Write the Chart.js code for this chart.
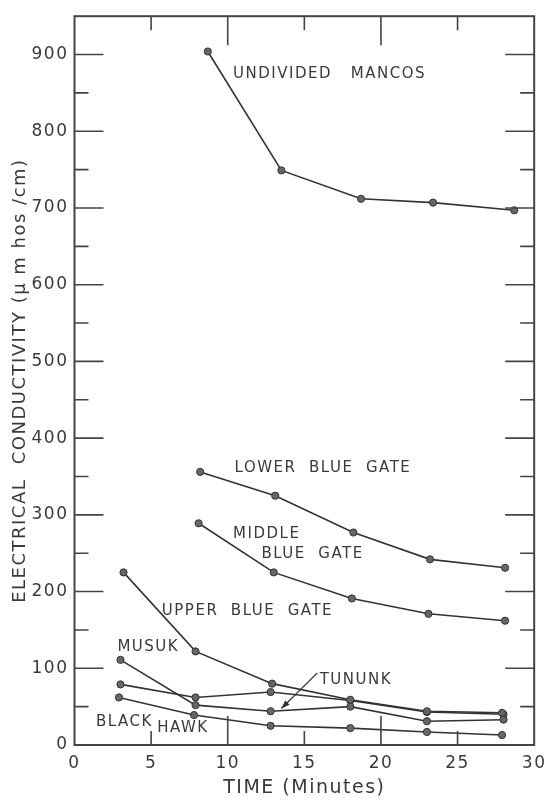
<!DOCTYPE html>
<html>
<head>
<meta charset="utf-8">
<script src="https://cdn.jsdelivr.net/npm/chart.js@4"></script>
<style>
  html, body { margin: 0; padding: 0; background: #fff; }
  #wrap { width: 553px; height: 801px; position: relative; }
</style>
</head>
<body>
<div id="wrap"><canvas id="chart"></canvas></div>
<script>
// time axis (minutes) and conductivity axis (µmhos/cm) tick labels
const xTickLabels = [0, 5, 10, 15, 20, 25, 30]
const yTickLabels = [0, 100, 200, 300, 400, 500, 600, 700, 800, 900]

// sampling times per series
const mancosTime = [8.7, 13.5, 18.7, 23.4, 28.7]
const lowerTime = [8.2, 13.1, 18.2, 23.2, 28.1]
const middleTime = [8.1, 13.0, 18.1, 23.1, 28.1]
const upperTime = [3.2, 7.9, 12.9, 18.0, 23.0, 27.9]
const musukTime = [3.0, 7.9, 12.8, 18.0, 23.0, 28.0]
const tununkTime = [3.0, 7.9, 12.8, 18.0, 23.0, 28.0]
const blackHawkTime = [2.9, 7.8, 12.8, 18.0, 23.0, 27.9]

// electrical conductivity per series
const mancosEC = [904, 749, 712, 707, 697]
const lowerEC = [356, 325, 277, 242, 231]
const middleEC = [289, 225, 191, 171, 162]
const upperEC = [225, 122, 80, 59, 44, 42]
const musukEC = [111, 52, 44, 50, 31, 33]
const tununkEC = [79, 62, 69, 58, 43, 40]
const blackHawkEC = [62, 39, 25, 22, 17, 13]

const ink = "#3a3a3a"
const font = "'DejaVu Sans', sans-serif"

function points(times, values) {
  return times.map((t, i) => ({ x: t, y: values[i] }))
}

function series(label, times, values) {
  return {
    label: label,
    data: points(times, values),
    showLine: true,
    borderColor: "#333",
    borderWidth: 1.6,
    pointRadius: 3.6,
    pointBackgroundColor: "#666",
    pointBorderColor: "#333",
    pointBorderWidth: 1
  }
}

// curve names, placed in data units
const curveLabels = [
  { text: "UNDIVIDED   MANCOS", x: 10.35, y: 875 },
  { text: "LOWER  BLUE  GATE", x: 10.45, y: 361 },
  { text: "MIDDLE", x: 10.35, y: 275 },
  { text: "BLUE  GATE", x: 12.2, y: 249 },
  { text: "UPPER  BLUE  GATE", x: 5.7, y: 174 },
  { text: "MUSUK", x: 2.8, y: 128 },
  { text: "TUNUNK", x: 16.0, y: 85 },
  { text: "BLACK", x: 1.4, y: 30 },
  { text: "HAWK", x: 5.4, y: 22 }
]

const framePlugin = {
  id: "frame",
  beforeDraw(chart) {
    chart.ctx.letterSpacing = "1.5px"
  },
  afterDatasetsDraw(chart) {
    const { ctx, chartArea: a, scales } = chart
    const x = scales.x
    const y = scales.y
    ctx.save()
    ctx.strokeStyle = "#444"
    ctx.lineWidth = 2
    ctx.strokeRect(a.left, a.top, a.right - a.left, a.bottom - a.top)

    // inward ticks on all four sides
    ctx.lineWidth = 1.6
    ctx.beginPath()
    for (let v = 50; v <= 900; v += 50) {
      const len = v % 100 === 0 ? 29 : 14
      const py = y.getPixelForValue(v)
      ctx.moveTo(a.left, py)
      ctx.lineTo(a.left + len, py)
      ctx.moveTo(a.right, py)
      ctx.lineTo(a.right - len, py)
    }
    for (let t = 5; t < 30; t += 5) {
      const len = t % 10 === 0 ? 29 : 14
      const px = x.getPixelForValue(t)
      ctx.moveTo(px, a.bottom)
      ctx.lineTo(px, a.bottom - len)
      ctx.moveTo(px, a.top)
      ctx.lineTo(px, a.top + len)
    }
    ctx.stroke()

    // curve names
    ctx.fillStyle = ink
    ctx.font = "15px " + font
    ctx.textAlign = "left"
    ctx.textBaseline = "middle"
    curveLabels.forEach(l => {
      ctx.fillText(l.text, x.getPixelForValue(l.x), y.getPixelForValue(l.y))
    })

    // arrow from TUNUNK to its curve
    const x0 = x.getPixelForValue(15.85), y0 = y.getPixelForValue(94)
    const x1 = x.getPixelForValue(13.5), y1 = y.getPixelForValue(47.5)
    ctx.strokeStyle = "#333"
    ctx.lineWidth = 1.3
    ctx.beginPath()
    ctx.moveTo(x0, y0)
    ctx.lineTo(x1, y1)
    ctx.stroke()
    const ang = Math.atan2(y1 - y0, x1 - x0)
    ctx.beginPath()
    ctx.moveTo(x1, y1)
    ctx.lineTo(x1 - 9 * Math.cos(ang - 0.35), y1 - 9 * Math.sin(ang - 0.35))
    ctx.lineTo(x1 - 9 * Math.cos(ang + 0.35), y1 - 9 * Math.sin(ang + 0.35))
    ctx.closePath()
    ctx.fillStyle = "#333"
    ctx.fill()
    ctx.restore()
  },
  afterDraw(chart) {
    chart.ctx.letterSpacing = "0px"
  }
}

new Chart(document.getElementById("chart"), {
  type: "scatter",
  data: {
    datasets: [
      series("Undivided Mancos", mancosTime, mancosEC),
      series("Lower Blue Gate", lowerTime, lowerEC),
      series("Middle Blue Gate", middleTime, middleEC),
      series("Upper Blue Gate", upperTime, upperEC),
      series("Musuk", musukTime, musukEC),
      series("Tununk", tununkTime, tununkEC),
      series("Black Hawk", blackHawkTime, blackHawkEC)
    ]
  },
  options: {
    responsive: true,
    maintainAspectRatio: false,
    animation: false,
    events: [],
    layout: {
      padding: { left: 0, right: 14, top: 9, bottom: 0 }
    },
    scales: {
      x: {
        type: "linear",
        min: 0,
        max: 30,
        afterBuildTicks: s => { s.ticks = xTickLabels.map(v => ({ value: v })) },
        afterFit: s => { s.height = 56 },
        grid: { display: false, drawTicks: false },
        border: { display: false },
        ticks: {
          color: ink,
          padding: 8,
          maxRotation: 0,
          font: { family: font, size: 17 }
        },
        title: {
          display: true,
          text: "TIME (Minutes)",
          color: ink,
          padding: { top: 0, bottom: 2 },
          font: { family: font, size: 19 }
        }
      },
      y: {
        type: "linear",
        min: 0,
        max: 950,
        afterBuildTicks: s => { s.ticks = yTickLabels.map(v => ({ value: v })) },
        afterFit: s => { s.width = 74.5 },
        grid: { display: false, drawTicks: false },
        border: { display: false },
        ticks: {
          color: ink,
          padding: 6,
          font: { family: font, size: 17 }
        },
        title: {
          display: true,
          text: "ELECTRICAL  CONDUCTIVITY (\u03bc m hos /cm)",
          color: ink,
          padding: { top: 10, bottom: 0 },
          font: { family: font, size: 18 }
        }
      }
    },
    plugins: {
      legend: { display: false },
      tooltip: { enabled: false }
    }
  },
  plugins: [framePlugin]
})
</script>
</body>
</html>
